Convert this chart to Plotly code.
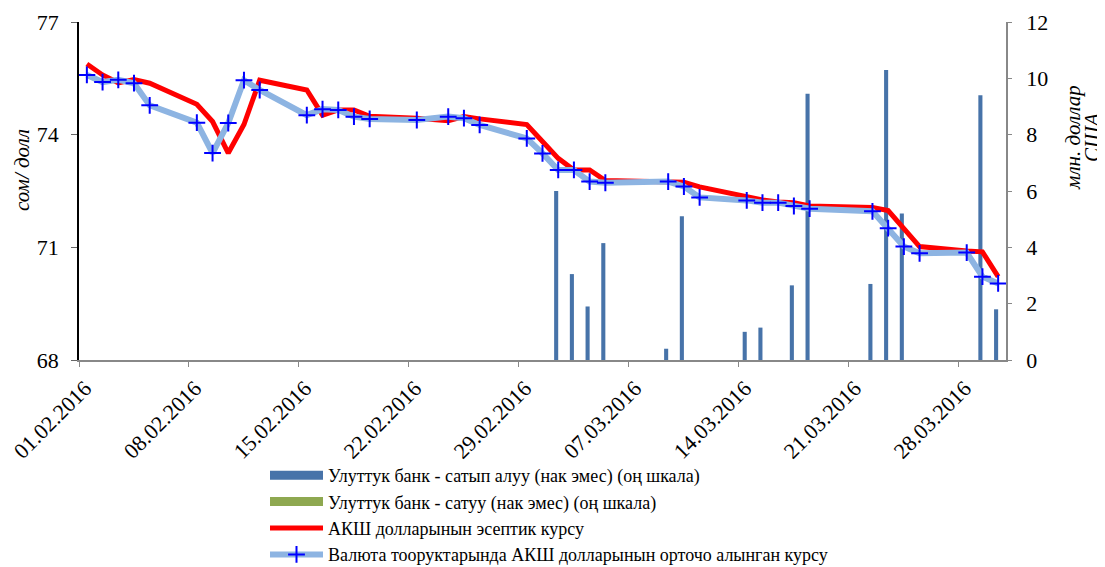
import pandas as pd
import plotly.graph_objects as go

# ---------------- data ----------------
dates = ["01.02.2016", "02.02.2016", "03.02.2016", "04.02.2016", "05.02.2016",
         "08.02.2016", "09.02.2016", "10.02.2016", "11.02.2016", "12.02.2016",
         "15.02.2016", "16.02.2016", "17.02.2016", "18.02.2016", "19.02.2016",
         "22.02.2016", "24.02.2016", "25.02.2016", "26.02.2016", "29.02.2016",
         "01.03.2016", "02.03.2016", "03.03.2016", "04.03.2016", "05.03.2016",
         "09.03.2016", "10.03.2016", "11.03.2016", "14.03.2016", "15.03.2016",
         "16.03.2016", "17.03.2016", "18.03.2016", "22.03.2016", "23.03.2016",
         "24.03.2016", "25.03.2016", "28.03.2016", "29.03.2016", "30.03.2016"]

# weighted average USD rate on the FX market (som per dollar)
market_rate = [75.59, 75.40, 75.46, 75.37, 74.78,
               74.32, 73.51, 74.31, 75.45, 75.19,
               74.52, 74.68, 74.66, 74.48, 74.42,
               74.39, 74.48, 74.44, 74.26, 73.90,
               73.50, 73.06, 73.06, 72.75, 72.72,
               72.75, 72.62, 72.33, 72.25, 72.19,
               72.19, 72.10, 72.03, 71.96, 71.51,
               71.02, 70.84, 70.86, 70.22, 70.04]

# official USD rate (som per dollar)
official_rate = [75.88, 75.59, 75.38, 75.47, 75.37,
                 74.81, 74.35, 73.51, 74.27, 75.45,
                 75.19, 74.52, 74.66, 74.66, 74.49,
                 74.44, 74.37, 74.48, 74.42, 74.27,
                 73.82, 73.37, 73.06, 73.06, 72.78,
                 72.74, 72.73, 72.61, 72.35, 72.26,
                 72.21, 72.19, 72.10, 72.06, 71.98,
                 71.51, 71.02, 70.90, 70.88, 70.22]

# National bank purchases (non-cash), mln USD (right scale)
nb_buy = [None, None, None, None, None,
          None, None, None, None, None,
          None, None, None, None, None,
          None, None, None, None, None,
          None, 6.0, 3.05, 1.9, 4.15,
          0.4, 5.1, None, 1.0, 1.15,
          None, 2.65, 9.45, 2.7, 10.3,
          5.2, None, None, 9.4, 1.8]

# National bank sales (non-cash), mln USD (right scale)
nb_sell = [0, 0, 0, 0, 0, 0, 0, 0, 0, 0,
           0, 0, 0, 0, 0, 0, 0, 0, 0, 0,
           0, 0, 0, 0, 0, 0, 0, 0, 0, 0,
           0, 0, 0, 0, 0, 0, 0, 0, 0, 0]

tick_labels = ["01.02.2016", "08.02.2016", "15.02.2016", "22.02.2016", "29.02.2016",
               "07.03.2016", "14.03.2016", "21.03.2016", "28.03.2016"]

left_ticks = [68, 71, 74, 77]
right_ticks = [0, 2, 4, 6, 8, 10, 12]

name_buy = "Улуттук банк - сатып алуу (нак эмес) (оң шкала)"
name_sell = "Улуттук банк - сатуу (нак эмес) (оң шкала)"
name_official = "АКШ долларынын эсептик курсу"
name_market = "Валюта тооруктарында АКШ долларынын орточо алынган курсу"

# ---------------- styling ----------------
FONT = "Liberation Serif, Times New Roman, serif"
C_BUY = "#4773A9"
C_SELL = "#8EA850"
C_RED = "#FF0000"
C_LBLUE = "#8DB4E2"
C_CROSS = "#0000FF"

# the page body adds an 8px offset; figure is sized so that it fills the window
W, H = 1097, 559
ML, MT, PW, PH = 71, 14, 927, 338

x = pd.to_datetime(dates, format="%d.%m.%Y") + pd.Timedelta(hours=12)
xt = pd.to_datetime(tick_labels, format="%d.%m.%Y")

fig = go.Figure()

fig.add_trace(go.Bar(x=x, y=nb_buy, name=name_buy, marker=dict(color=C_BUY, line=dict(width=0)),
                     yaxis="y", showlegend=False))
fig.add_trace(go.Bar(x=x, y=nb_sell, name=name_sell, marker=dict(color=C_SELL, line=dict(width=0)),
                     yaxis="y", showlegend=False))

# legend entries for bars (wide rectangles like the original)
fig.add_trace(go.Scatter(x=[None], y=[None], mode="lines", name=name_buy,
                         line=dict(color=C_BUY, width=9), yaxis="y2", legendgroup="g1"))
fig.add_trace(go.Scatter(x=[None], y=[None], mode="lines", name=name_sell,
                         line=dict(color=C_SELL, width=9), yaxis="y2", legendgroup="g2"))

fig.add_trace(go.Scatter(x=x, y=official_rate, mode="lines", name=name_official,
                         line=dict(color=C_RED, width=5), yaxis="y2", legendgroup="g3"))
fig.add_trace(go.Scatter(x=x, y=market_rate, mode="lines+markers", name=name_market,
                         line=dict(color=C_LBLUE, width=6),
                         marker=dict(symbol="cross-thin", size=12, color=C_CROSS,
                                     line=dict(color=C_CROSS, width=2)),
                         yaxis="y2", legendgroup="g4"))


def px_x(px):
    return (px - 8 - ML) / PW


def px_y(py):
    return (MT + PH - (py - 8)) / PH


fig.update_layout(
    template="none",
    width=W, height=H,
    margin=dict(l=ML, r=W - ML - PW, t=MT, b=H - MT - PH, autoexpand=False),
    paper_bgcolor="white", plot_bgcolor="white",
    font=dict(family=FONT, size=18, color="black"),
    barmode="group", bargap=0.48, bargroupgap=0,
    showlegend=True,
    legend=dict(x=px_x(265), y=px_y(457), xanchor="left", yanchor="top",
                font=dict(family=FONT, size=18, color="black"),
                itemwidth=53, tracegroupgap=3, traceorder="normal",
                bgcolor="rgba(0,0,0,0)", borderwidth=0),
    xaxis=dict(type="date", range=["2016-02-01", "2016-03-31"], automargin=False,
               tickmode="array", tickvals=xt, ticktext=tick_labels,
               tickangle=-45, ticks="outside", ticklen=5, tickcolor="#888888",
               showline=True, linecolor="#888888", linewidth=1.5,
               showgrid=False, zeroline=False,
               tickfont=dict(family=FONT, size=22, color="black"),
               ticklabelshift=6),
    yaxis=dict(side="right", range=[0, 12], tickmode="array", tickvals=right_ticks,
               automargin=False,
               ticks="outside", ticklen=4, tickcolor="#888888",
               showline=True, linecolor="#888888", linewidth=1.5,
               showgrid=False, zeroline=False,
               tickfont=dict(family=FONT, size=22, color="black"),
               ticklabelstandoff=10),
    yaxis2=dict(overlaying="y", side="left", anchor="x", range=[68, 77],
                automargin=False,
                tickmode="array", tickvals=left_ticks,
                ticks="outside", ticklen=6, tickcolor="#666666",
                showline=True, linecolor="black", linewidth=1.5,
                showgrid=False, zeroline=False,
                tickfont=dict(family=FONT, size=22, color="black"),
                ticklabelstandoff=8),
    annotations=[
        dict(text="<i>сом/ долл</i>", xref="paper", yref="paper", x=px_x(22), y=px_y(170),
             xanchor="center", yanchor="middle", textangle=-90, showarrow=False,
             font=dict(family=FONT, size=21, color="black")),
        dict(text="<i>млн. доллар</i>", xref="paper", yref="paper", x=px_x(1073),
             y=px_y(138),
             xanchor="center", yanchor="middle", textangle=-90, showarrow=False,
             font=dict(family=FONT, size=21, color="black")),
        dict(text="<i>США</i>", xref="paper", yref="paper", x=px_x(1092),
             y=px_y(138),
             xanchor="center", yanchor="middle", textangle=-90, showarrow=False,
             font=dict(family=FONT, size=21, color="black")),
    ],
)

fig.write_html("out.html")
